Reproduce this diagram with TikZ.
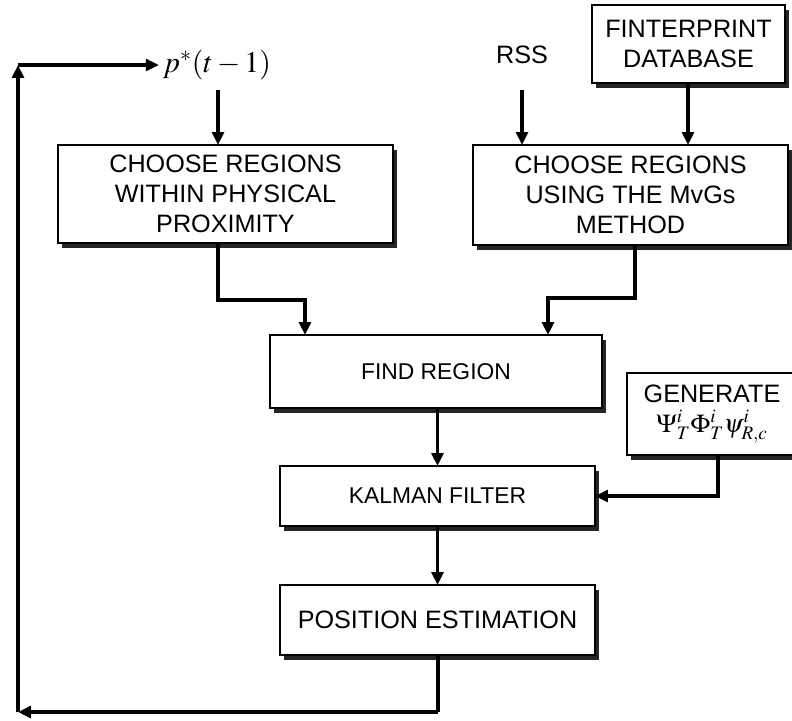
\documentclass[tikz,border=0pt]{standalone}
\usepackage{mathptmx}
\usepackage[no-math]{fontspec}
\setmainfont{Liberation Sans}
\usetikzlibrary{
  arrows.meta,
  shadows
  }

\begin{document}
\begin{tikzpicture}[x=0.03cm, y=-0.03cm]
    \def\px{0.03cm}
    \useasboundingbox (0,0) rectangle (792,720);
    \tikzset{blocco/.style = {draw, line width=2.4pt, fill=white, align=center,
                              inner sep=0pt, outer sep=0pt, font=\grande,
                              drop shadow={shadow xshift=3.5pt, shadow yshift=-4pt, fill=black, opacity=0.85}},
             freccia/.style = {line width=2.8pt, -{Triangle[length=11pt, width=10pt]}},
             linea/.style = {line width=2.8pt}}
    \def\grande{\fontsize{21.5}{25.5}\selectfont}
    \def\medio{\fontsize{19.5}{24}\selectfont}
    % ingressi
    \node (pstar) at (217,65) {\fontsize{25.5}{30}\selectfont$p^{*}(t-1)$};
    \node [font=\grande] (rss) at (522,55) {RSS};
    \node [blocco, minimum width=193*\px, minimum height=78*\px] (db) at (688.5,44) {FINTERPRINT\\DATABASE};
    % blocchi
    \node [blocco, minimum width=335*\px, minimum height=98*\px] (prox) at (225.5,194)
          {CHOOSE REGIONS\\WITHIN PHYSICAL\\PROXIMITY};
    \node [blocco, minimum width=315*\px, minimum height=100*\px] (mvgs) at (630.5,195)
          {CHOOSE REGIONS\\USING THE MvGs\\METHOD};
    \node [blocco, minimum width=332*\px, minimum height=73*\px, font=\medio] (find) at (436,371.5) {FIND REGION};
    \node [blocco, minimum width=170*\px, minimum height=82*\px] (gen) at (712,414)
          {GENERATE\\ \fontsize{22}{24}\selectfont$\Psi^{i}_{T}\Phi^{i}_{T}\psi^{i}_{R,c}$};
    \node [blocco, minimum width=315*\px, minimum height=60*\px, font=\medio] (kalman) at (437.5,496) {KALMAN FILTER};
    \node [blocco, minimum width=315*\px, minimum height=70*\px] (pos) at (437.5,620) {POSITION ESTIMATION};
    % angoli del ritorno
    \coordinate (giu) at (438,712);
    \coordinate (sx) at (18,712);
    \coordinate (su) at (18,65);

    \draw [freccia] (218,90) -- (prox.north -| 218,0);
    \draw [freccia] (rss.south |- 0,90) -- (mvgs.north -| rss);
    \draw [freccia] (db.south -| 688,0) -- (mvgs.north -| 688,0);
    \draw [freccia] (prox.south -| 218,0) |- (262,300) -| (find.north -| 305,0);
    \draw [freccia] (mvgs.south -| 635,0) |- (590,298) -| (find.north -| 548,0);
    \draw [freccia] (find.south -| kalman) -- (kalman.north);
    \draw [freccia] (kalman.south) -- (pos.north);
    \draw [freccia] (gen.south -| 718,0) |- (kalman.east);
    \draw [linea] (pos.south -| giu) -- (giu);
    \draw [freccia] (giu) -- (sx);
    \draw [freccia] (sx) -- (su);
    \draw [freccia] (su) -- (pstar.west);
\end{tikzpicture}
\end{document}
